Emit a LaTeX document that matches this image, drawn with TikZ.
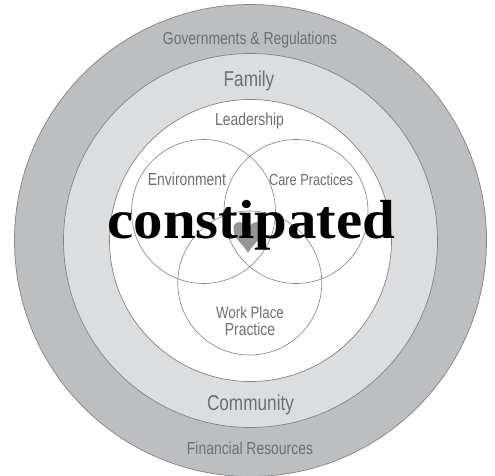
\documentclass[tikz,border=0pt]{standalone}
\usepackage{fontspec}
\newfontfamily\labfont[FakeStretch=0.8]{Liberation Sans}
\newfontfamily\bigfont[FakeStretch=1.07]{Liberation Serif}
\definecolor{ringdark}{HTML}{BCBEC0}
\definecolor{ringlight}{HTML}{DCDDDF}
\definecolor{edgegrey}{HTML}{808285}
\definecolor{labgrey}{HTML}{6D6E71}
\definecolor{heartgrey}{HTML}{939598}
\tikzset{
  ring/.style={draw=edgegrey, line width=0.7pt},
  venn/.style={draw=edgegrey, line width=0.6pt},
  lab/.style={inner sep=0pt, anchor=base, text=labgrey, font=\labfont\fontsize{17.4}{18}\selectfont},
  biglab/.style={lab, font=\labfont\fontsize{21.5}{22}\selectfont},
  title/.style={inner sep=0pt, anchor=base, text=black, font=\bigfont\bfseries\fontsize{55}{57}\selectfont}
}
\begin{document}
\begin{tikzpicture}[x=1pt,y=-1pt]
\useasboundingbox (0,0) rectangle (495,476);
\fill[white] (0,0) rectangle (495,476);
\coordinate (c) at (250.5,240.5);
% rings
\path[ring, fill=ringdark] (c) circle[radius=236];
\path[ring, fill=ringlight] (c) circle[radius=187];
\path[ring, fill=white] (c) circle[radius=141];
% venn circles
\path[venn] (203.5,211.5) circle[radius=72];
\path[venn] (296,211.5) circle[radius=72];
\path[venn] (249.75,283) circle[radius=72];
% heart
\fill[heartgrey] (248,229) .. controls (244,219) and (232,220) .. (233.5,231)
  .. controls (235,240) and (244,245) .. (248,253)
  .. controls (252,245) and (261,240) .. (262.5,231)
  .. controls (264,220) and (252,219) .. (248,229) -- cycle;
% labels
\node[lab] (gov) at (250,45) {Governments \& Regulations};
\node[biglab] (fam) at (249,86.7) {Family};
\node[lab] (lead) at (249.5,126) {Leadership};
\node[lab] (env) at (187,185) {Environment};
\node[lab, font=\labfont\fontsize{16}{17}\selectfont] (care) at (311,185) {Care Practices};
\node[lab, font=\labfont\fontsize{16.6}{17}\selectfont] (work) at (250,318) {Work Place};
\node[lab] (prac) at (250,335.7) {Practice};
\node[biglab] (comm) at (250.5,410) {Community};
\node[lab] (fin) at (250,454) {Financial Resources};
\node[title] (word) at (251.5,238) {constipated};
\end{tikzpicture}
\end{document}
